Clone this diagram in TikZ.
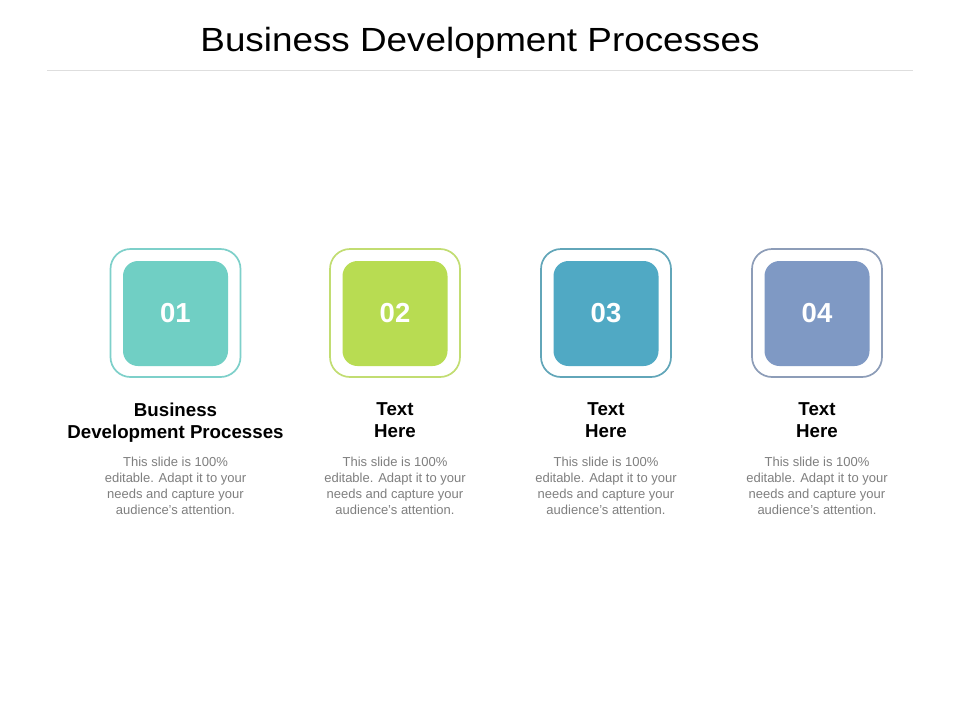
\documentclass[tikz,border=0pt]{standalone}
\usepackage{fontspec}
\setmainfont{Liberation Sans}
\definecolor{cA}{HTML}{70CFC4}
\definecolor{cAo}{HTML}{7ED0CA}
\definecolor{cB}{HTML}{B8DC52}
\definecolor{cBo}{HTML}{C2DD72}
\definecolor{cC}{HTML}{50A9C4}
\definecolor{cCo}{HTML}{62A6B9}
\definecolor{cD}{HTML}{7F99C4}
\definecolor{cDo}{HTML}{8D9DB8}
\definecolor{bodygray}{HTML}{7F7F7F}
\tikzset{
  outerbox/.style={draw=#1, line width=1.7pt, fill=white, rounded corners=20pt, minimum width=130pt, minimum height=128pt, inner sep=0pt},
  innerbox/.style={fill=#1, rounded corners=15pt, minimum width=105pt, minimum height=105pt, inner sep=0pt, text=white, font=\fontsize{27.5}{30}\selectfont\bfseries},
  headtext/.style={anchor=north, inner sep=0pt, align=center, font=\fontsize{18.7}{22.6}\selectfont\bfseries, text=black},
  bodytext/.style={anchor=north, inner sep=0pt, align=center, font=\fontsize{13}{16}\selectfont, text=bodygray},
}
\begin{document}
\begin{tikzpicture}[x=1pt,y=-1pt]
\useasboundingbox[fill=white] (0,0) rectangle (960,720);
\node[anchor=base, inner sep=0pt, font=\fontsize{33.5}{40}\selectfont] (title) at (480,51.7) {\scalebox{1.1}[1]{Business Development Processes}};
\coordinate (lineL) at (47,70);
\coordinate (lineR) at (913,70);
\draw[draw=black!13, line width=0.8pt] (lineL) -- (lineR);

\foreach \i/\x/\c/\n in {1/175.5/cA/01, 2/395/cB/02, 3/606/cC/03, 4/817/cD/04}{
  \node[outerbox=\c o] (o\i) at (\x,313) {};
  \node[innerbox=\c] (in\i) at (\x,313.5) {\n};
}
\node[headtext] (h1) at (175.5,402.3) {Business\\Development Processes};
\node[headtext] (h2) at (395,402.3) {Text\\Here};
\node[headtext] (h3) at (606,402.3) {Text\\Here};
\node[headtext] (h4) at (817,402.3) {Text\\Here};
\foreach \i/\x in {1/175.5, 2/395, 3/606, 4/817}{
  \node[bodytext] (b\i) at (\x,457) {This slide is 100\%\\editable. Adapt it to your\\needs and capture your\\audience's attention.};
}
\end{tikzpicture}
\end{document}
